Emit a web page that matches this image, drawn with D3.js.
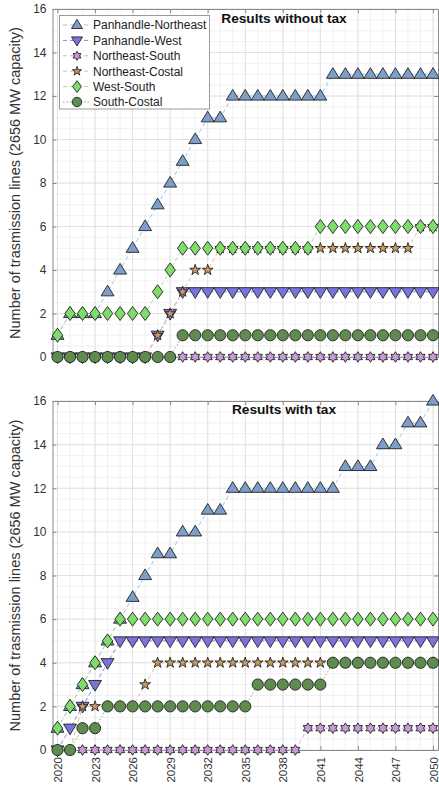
<!DOCTYPE html>
<html>
<head>
<meta charset="utf-8">
<script src="https://cdn.jsdelivr.net/npm/d3@7/dist/d3.min.js"></script>
<style>
    body { margin: 0; background: #fff; }
    svg text { font-family: "Liberation Sans", Arial, sans-serif; }
</style>
</head>
<body>
<div id="main"></div>
<script>
const ctx = {
    w: 439,
    h: 788,
    left: 52.5,
    right: 438
};

// x categories (years) and axis ticks
const years = [2020, 2021, 2022, 2023, 2024, 2025, 2026, 2027, 2028, 2029,
    2030, 2031, 2032, 2033, 2034, 2035, 2036, 2037, 2038, 2039,
    2040, 2041, 2042, 2043, 2044, 2045, 2046, 2047, 2048, 2049, 2050];
const xTicks = [2020, 2023, 2026, 2029, 2032, 2035, 2038, 2041, 2044, 2047, 2050];
const yTicks = [0, 2, 4, 6, 8, 10, 12, 14, 16];

const seriesNames = ["Panhandle-Northeast", "Panhandle-West", "Northeast-South",
    "Northeast-Costal", "West-South", "South-Costal"];

// panel 1: results without tax
const noTaxPanNE = [1, 2, 2, 2, 3, 4, 5, 6, 7, 8, 9, 10, 11, 11, 12, 12, 12, 12, 12, 12, 12, 12, 13, 13, 13, 13, 13, 13, 13, 13, 13];
const noTaxPanW = [0, 0, 0, 0, 0, 0, 0, 0, 1, 2, 3, 3, 3, 3, 3, 3, 3, 3, 3, 3, 3, 3, 3, 3, 3, 3, 3, 3, 3, 3, 3];
const noTaxNES = [0, 0, 0, 0, 0, 0, 0, 0, 0, 0, 0, 0, 0, 0, 0, 0, 0, 0, 0, 0, 0, 0, 0, 0, 0, 0, 0, 0, 0, 0, 0];
const noTaxNEC = [0, 0, 0, 0, 0, 0, 0, 0, 1, 2, 3, 4, 4, 5, 5, 5, 5, 5, 5, 5, 5, 5, 5, 5, 5, 5, 5, 5, 5, 6, 6];
const noTaxWS = [1, 2, 2, 2, 2, 2, 2, 2, 3, 4, 5, 5, 5, 5, 5, 5, 5, 5, 5, 5, 5, 6, 6, 6, 6, 6, 6, 6, 6, 6, 6];
const noTaxSC = [0, 0, 0, 0, 0, 0, 0, 0, 0, 0, 1, 1, 1, 1, 1, 1, 1, 1, 1, 1, 1, 1, 1, 1, 1, 1, 1, 1, 1, 1, 1];

// panel 2: results with tax
const taxPanNE = [1, 2, 3, 4, 5, 6, 7, 8, 9, 9, 10, 10, 11, 11, 12, 12, 12, 12, 12, 12, 12, 12, 12, 13, 13, 13, 14, 14, 15, 15, 16];
const taxPanW = [0, 1, 2, 3, 4, 5, 5, 5, 5, 5, 5, 5, 5, 5, 5, 5, 5, 5, 5, 5, 5, 5, 5, 5, 5, 5, 5, 5, 5, 5, 5];
const taxNES = [0, 0, 0, 0, 0, 0, 0, 0, 0, 0, 0, 0, 0, 0, 0, 0, 0, 0, 0, 0, 1, 1, 1, 1, 1, 1, 1, 1, 1, 1, 1];
const taxNEC = [0, 0, 2, 2, 2, 2, 2, 3, 4, 4, 4, 4, 4, 4, 4, 4, 4, 4, 4, 4, 4, 4, 4, 4, 4, 4, 4, 4, 4, 4, 4];
const taxWS = [1, 2, 3, 4, 5, 6, 6, 6, 6, 6, 6, 6, 6, 6, 6, 6, 6, 6, 6, 6, 6, 6, 6, 6, 6, 6, 6, 6, 6, 6, 6];
const taxSC = [0, 0, 1, 1, 2, 2, 2, 2, 2, 2, 2, 2, 2, 2, 2, 2, 3, 3, 3, 3, 3, 3, 4, 4, 4, 4, 4, 4, 4, 4, 4];

// marker / line styles, one per series (same order as seriesNames)
const styles = [
    { shape: "triUp",    fill: "#7d9ec9", line: "#a6c0e4", dash: "4,3" },
    { shape: "triDown",  fill: "#7b72dc", line: "#7f8ce6", dash: "4,3" },
    { shape: "hexagram", fill: "#c79bd6", line: "#dba4dc", dash: "4,3" },
    { shape: "star",     fill: "#c99a62", line: "#e6bd90", dash: "4,3" },
    { shape: "diamond",  fill: "#7fdc6c", line: "#a4e296", dash: "4,3" },
    { shape: "circle",   fill: "#5f8c4e", line: "#8fa586", dash: "1.5,2" }
];

// custom marker paths centred on 0,0
function markerPath(shape, s) {
    s = s || 1;
    if (shape === "triUp") {
        let r = 6.6 * s;
        return `M0,${-r}L${r * 0.98},${r * 0.62}L${-r * 0.98},${r * 0.62}Z`;
    }
    if (shape === "triDown") {
        let r = 6.6 * s;
        return `M0,${r}L${r * 0.98},${-r * 0.62}L${-r * 0.98},${-r * 0.62}Z`;
    }
    if (shape === "diamond") {
        let a = 5.2 * s, b = 7 * s;
        return `M0,${-b}L${a},0L0,${b}L${-a},0Z`;
    }
    if (shape === "circle") {
        let r = 5.6 * s;
        return `M${r},0A${r},${r} 0 1,1 ${-r},0A${r},${r} 0 1,1 ${r},0Z`;
    }
    if (shape === "star") {
        return d3.symbol().type(d3.symbolStar).size(36 * s * s)();
    }
    // six pointed star
    let ro = 5.3 * s, ri = ro / Math.sqrt(3);
    let pts = [];
    for (let i = 0; i < 12; i++) {
        let a = -Math.PI / 2 + i * Math.PI / 6;
        let r = (i % 2 === 0) ? ro : ri;
        pts.push([r * Math.cos(a), r * Math.sin(a)]);
    }
    return "M" + pts.map((p) => p.join(",")).join("L") + "Z";
}

function drawPanel(svg, p) {
    let x = d3.scaleLinear().domain([2019.6, 2050.4]).range([ctx.left, ctx.right]);
    let y = d3.scaleLinear().domain([0, 16]).range([p.bottom, p.top]);
    let g = svg.append("g");

    // minor grid
    let gridG = g.append("g");
    gridG.selectAll("line.minx").data(years).enter().append("line")
        .attr("x1", (d) => x(d)).attr("x2", (d) => x(d))
        .attr("y1", p.top).attr("y2", p.bottom)
        .attr("stroke", "#eeeeee").attr("stroke-width", 0.8);
    gridG.selectAll("line.miny").data(y.ticks(32)).enter().append("line")
        .attr("x1", ctx.left).attr("x2", ctx.right)
        .attr("y1", (d) => y(d)).attr("y2", (d) => y(d))
        .attr("stroke", "#eeeeee").attr("stroke-width", 0.8);
    // major grid
    gridG.selectAll("line.majx").data(xTicks).enter().append("line")
        .attr("x1", (d) => x(d)).attr("x2", (d) => x(d))
        .attr("y1", p.top).attr("y2", p.bottom)
        .attr("stroke", "#dddddd").attr("stroke-width", 0.8);
    gridG.selectAll("line.majy").data(yTicks).enter().append("line")
        .attr("x1", ctx.left).attr("x2", ctx.right)
        .attr("y1", (d) => y(d)).attr("y2", (d) => y(d))
        .attr("stroke", "#dddddd").attr("stroke-width", 0.8);

    // axes with inward ticks (box on)
    let axisCol = "#8a8a8a";
    let yAxis = g.append("g")
        .attr("transform", `translate(${ctx.left},0)`)
        .call(d3.axisLeft(y).tickValues(yTicks).tickSizeInner(-4).tickSizeOuter(0).tickPadding(6));
    yAxis.selectAll("text").attr("font-size", "12px").attr("fill", "#333");
    g.append("g")
        .attr("transform", `translate(${ctx.right},0)`)
        .call(d3.axisRight(y).tickValues(yTicks).tickSizeInner(-4).tickSizeOuter(0).tickFormat(""));
    g.append("g")
        .attr("transform", `translate(0,${p.top})`)
        .call(d3.axisTop(x).tickValues(xTicks).tickSizeInner(-4).tickSizeOuter(0).tickFormat(""));
    let xAxis = g.append("g")
        .attr("transform", `translate(0,${p.bottom})`)
        .call(d3.axisBottom(x).tickValues(xTicks).tickSizeInner(-4).tickSizeOuter(0)
            .tickFormat(p.showX ? d3.format("d") : ""));
    g.selectAll(".domain").attr("stroke", axisCol);
    g.selectAll(".tick line").attr("stroke", axisCol);
    if (p.showX) {
        xAxis.selectAll("text")
            .attr("font-size", "11.5px")
            .attr("fill", "#333")
            .attr("text-anchor", "end")
            .attr("transform", "rotate(-90)")
            .attr("x", -7)
            .attr("y", 0)
            .attr("dy", "0.36em");
    }

    // series: line then markers, later series on top
    p.series.forEach((vals, k) => {
        let st = styles[k];
        let pts = years.map((yr, i) => [yr, vals[i]]);
        g.append("path")
            .datum(pts)
            .attr("fill", "none")
            .attr("stroke", st.line)
            .attr("stroke-width", 1)
            .attr("stroke-dasharray", st.dash)
            .attr("d", d3.line().x((d) => x(d[0])).y((d) => y(d[1])));
        g.append("g").selectAll("path")
            .data(pts)
            .enter()
            .append("path")
            .attr("transform", (d) => `translate(${x(d[0])},${y(d[1])})`)
            .attr("d", markerPath(st.shape))
            .attr("fill", st.fill)
            .attr("stroke", "#222")
            .attr("stroke-width", 0.9)
            .attr("stroke-linejoin", "miter");
    });

    // title
    g.append("text")
        .attr("x", 284)
        .attr("y", p.titleY)
        .attr("text-anchor", "middle")
        .attr("font-size", "13.7px")
        .attr("font-weight", "bold")
        .attr("fill", "#111")
        .text(p.title);

    // y label
    g.append("text")
        .attr("transform", `translate(20,${(p.top + p.bottom) / 2}) rotate(-90)`)
        .attr("text-anchor", "middle")
        .attr("font-size", "14.5px")
        .attr("fill", "#333")
        .text("Number of trasmission lines (2656 MW capacity)");

    if (p.legend) drawLegend(g);
}

function drawLegend(g) {
    let lg = g.append("g");
    lg.append("rect")
        .attr("x", 59.5).attr("y", 15.5)
        .attr("width", 150).attr("height", 93.5)
        .attr("fill", "#fff")
        .attr("stroke", "#9a9a9a")
        .attr("stroke-width", 1);
    seriesNames.forEach((name, i) => {
        let st = styles[i];
        let yy = 25 + i * 15.4;
        lg.append("line")
            .attr("x1", 63).attr("x2", 91)
            .attr("y1", yy).attr("y2", yy)
            .attr("stroke", st.line)
            .attr("stroke-dasharray", st.dash);
        lg.append("path")
            .attr("transform", `translate(77,${yy})`)
            .attr("d", markerPath(st.shape, 0.85))
            .attr("fill", st.fill)
            .attr("stroke", "#222")
            .attr("stroke-width", 0.9);
        lg.append("text")
            .attr("x", 93)
            .attr("y", yy)
            .attr("dy", "0.36em")
            .attr("font-size", "12px")
            .attr("fill", "#222")
            .text(name);
    });
}

function createViz() {
    let svg = d3.select("#main").append("svg")
        .attr("width", ctx.w)
        .attr("height", ctx.h);
    let panels = [
        { top: 9, bottom: 357, title: "Results without tax", titleY: 23, legend: true, showX: false,
          series: [noTaxPanNE, noTaxPanW, noTaxNES, noTaxNEC, noTaxWS, noTaxSC] },
        { top: 401, bottom: 750, title: "Results with tax", titleY: 414, legend: false, showX: true,
          series: [taxPanNE, taxPanW, taxNES, taxNEC, taxWS, taxSC] }
    ];
    panels.forEach((p) => drawPanel(svg, p));
}

createViz();
</script>
</body>
</html>
